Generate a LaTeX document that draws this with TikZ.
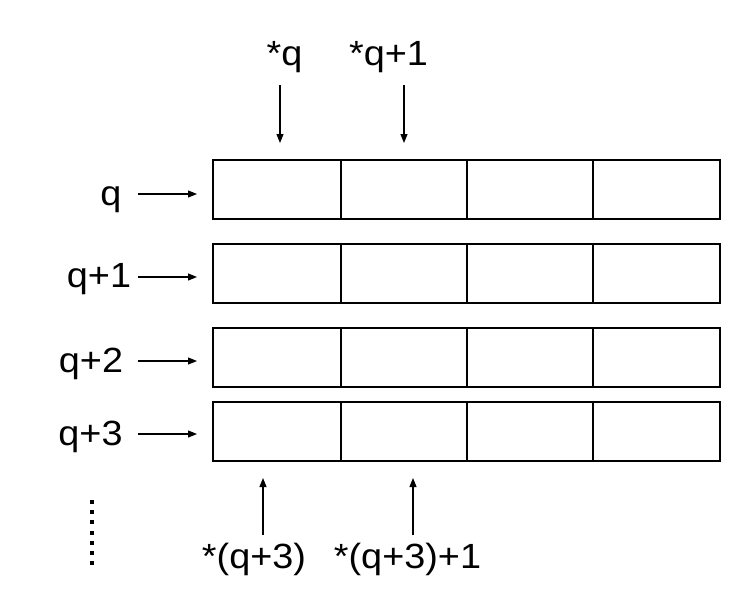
\documentclass[tikz,border=0pt]{standalone}
\usepackage{fontspec}
\setmainfont[FakeStretch=1.08]{Liberation Sans}
\usetikzlibrary{arrows.meta}
\begin{document}
\begin{tikzpicture}[x=1pt,y=-1pt,
  rowbox/.style={draw, line width=2.8pt, minimum width=507pt, minimum height=59pt, inner sep=0pt, outer sep=0pt, anchor=north west},
  divider/.style={line width=1.3pt},
  lbl/.style={inner sep=0pt, anchor=base, font=\fontsize{35}{42}\selectfont},
  ptr/.style={line width=1.1pt, -{Triangle[length=9pt,width=7pt]}},
  dot/.style={fill=black, minimum size=4pt, inner sep=0pt, shape=rectangle}
]
\useasboundingbox (0,0) rectangle (753,608);
% rows
\node[rowbox] (r1) at (213,160) {};
\node[rowbox] (r2) at (213,244) {};
\node[rowbox] (r3) at (213,328) {};
\node[rowbox] (r4) at (213,402) {};
\foreach \r in {r1,r2,r3,r4}{
  \foreach \x in {341,467,593}{
    \draw[divider] (\r.north west -| \x,0) -- (\r.south west -| \x,0);
  }
}
% left labels
\node[lbl] (l1) at (111,205) {q};
\node[lbl] (l2) at (99,287) {q+1};
\node[lbl] (l3) at (91,372) {q+2};
\node[lbl] (l4) at (90.5,445) {q+3};
\coordinate (a1) at (138,194);
\coordinate (a2) at (138,277);
\coordinate (a3) at (138,361);
\coordinate (a4) at (138,434);
\draw[ptr, shorten >=16pt] (a1) -- (a1 -| r1.west);
\draw[ptr, shorten >=16pt] (a2) -- (a2 -| r2.west);
\draw[ptr, shorten >=16pt] (a3) -- (a3 -| r3.west);
\draw[ptr, shorten >=16pt] (a4) -- (a4 -| r4.west);
% top labels
\node[lbl] (t1) at (284.5,65) {*q};
\node[lbl] (t2) at (388.5,65) {*q+1};
\coordinate (ta1) at (280,85);
\coordinate (ta2) at (404,85);
\draw[ptr, shorten >=17pt] (ta1) -- (ta1 |- r1.north);
\draw[ptr, shorten >=17pt] (ta2) -- (ta2 |- r1.north);
% bottom labels
\node[lbl] (b1) at (254,568) {*(q+3)};
\node[lbl] (b2) at (407.5,568) {*(q+3)+1};
\coordinate (ba1) at (263,535);
\coordinate (ba2) at (413,535);
\draw[ptr, shorten >=17pt] (ba1) -- (ba1 |- r4.south);
\draw[ptr, shorten >=17pt] (ba2) -- (ba2 |- r4.south);
% dots
\foreach \i in {0,...,6}{
  \node[dot] (d\i) at (92,{502+10.2*\i}) {};
}
\end{tikzpicture}
\end{document}
